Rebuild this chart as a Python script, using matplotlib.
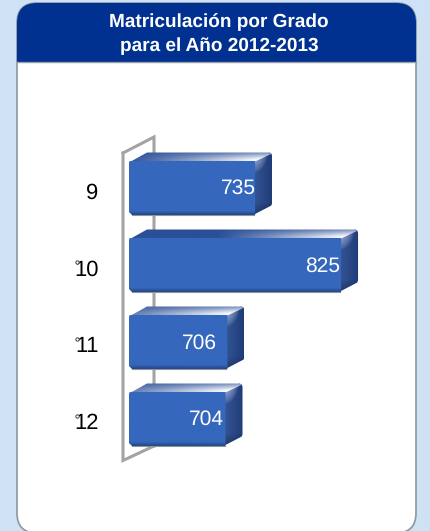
import numpy as np
import matplotlib
matplotlib.use("Agg")
import matplotlib.pyplot as plt
from matplotlib.patches import FancyBboxPatch, Polygon, Rectangle
from matplotlib.colors import to_rgb
from matplotlib.transforms import ScaledTranslation

grades = ["9", "10", "11", "12"]
enrolment = [735, 825, 706, 704]
title_text = "Matriculación por Grado\npara el Año 2012-2013"

W, H = 430, 531
plt.rcParams['font.family'] = ['Liberation Sans', 'DejaVu Sans']
plt.rcParams['text.hinting'] = 'no_hinting'
plt.rcParams['text.hinting_factor'] = 1
fig = plt.figure(figsize=(W/100, H/100), dpi=100, facecolor='#cfe2f5')

# panel layer in pixel coordinates
bg = fig.add_axes([0, 0, 1, 1])
bg.set_xlim(0, W); bg.set_ylim(H, 0); bg.axis('off')
R = 20
panel = FancyBboxPatch((17+R, 3+R), 399-2*R, 530-2*R, boxstyle=f"round,pad={R},rounding_size={R}",
                       fc='white', ec='#8e969e', lw=1.2)
bg.add_patch(panel)
header = Rectangle((16, 0), 401, 62, fc='#003090', ec='none')
bg.add_patch(header)
header.set_clip_path(panel)
bg.plot([17, 416], [62, 62], color='#9aa0a8', lw=1)
bg.text(219, 34, title_text, color='white', fontsize=14, fontweight='bold',
        ha='center', va='center', linespacing=1.46)

# data axes: value axis starts at 604, 0.955 px per unit; slots 77 px high
PX = 0.955
x0_px, top_px, bot_px = 129, 149.5, 457.5
base = 604
ax = fig.add_axes([x0_px/W, 1-bot_px/H, 290/W, (bot_px-top_px)/H])
ax.patch.set_alpha(0)
xlim = (base, base+290/PX)
ylim = (len(grades)-0.5, -0.5)
for s in ax.spines.values():
    s.set_visible(False)
ux, uy = 1/PX, 1/77.0     # data units per pixel
dx, dy = 18*ux, 8.5*uy
bar_h = 54*uy
label_shift_px = [2, 0, -9, -0.5]
label_drop_px = [0, 1, 1, 0]

def grad_face(poly, rgb_array, z):
    xs = [p[0] for p in poly]; ys = [p[1] for p in poly]
    im = ax.imshow(rgb_array, extent=(min(xs), max(xs), max(ys), min(ys)),
                   aspect='auto', zorder=z, interpolation='bilinear')
    clip = Polygon(poly, closed=True, transform=ax.transData, fc='none', ec='none')
    ax.add_patch(clip)
    im.set_clip_path(clip)

def mix(a, b, t):
    a, b = np.array(to_rgb(a)), np.array(to_rgb(b))
    return a[None, None, :]*(1-t[..., None]) + b[None, None, :]*t[..., None]

# wall
wall_c = '#a3a3a3'
wall_back_x = base+(154-129)*ux
wall_front_x = base+(123-129)*ux
ytop_b = (137-188)*uy; ybot_b = (446-188)*uy
ytop_f = (153-188)*uy; ybot_f = (460.5-188)*uy
wall_kw = dict(color=wall_c, lw=2.2, clip_on=False, solid_joinstyle='miter')
ax.plot([wall_front_x, wall_back_x, wall_back_x], [ytop_f, ytop_b, ybot_b], zorder=1, **wall_kw)
ax.plot([wall_front_x, wall_front_x, wall_back_x], [ytop_f, ybot_f, ybot_b], zorder=1, **wall_kw)

for i, v in enumerate(enrolment):
    yt, yb = i-bar_h/2, i+bar_h/2
    c = 3*ux; cy = 3*uy
    front = [(base, yt+cy*0.5), (base+c*0.5, yt), (v+1*ux, yt), (v+1*ux, yb), (base+c, yb), (base, yb-cy)]
    top = [(base, yt+cy*0.5), (base+dx, yt-dy), (v+dx-c, yt-dy), (v+dx-c*0.2, yt-dy+cy*0.4),
           (v+1*ux, yt+0.5*uy), (base, yt+0.5*uy)]
    side = [(v-1*ux, yt+1*uy), (v+dx-c, yt-dy), (v+dx-c*0.3, yt-dy+cy*0.3), (v+dx, yt-dy+cy),
            (v+dx, yb-dy-cy), (v+dx-c*0.3, yb-dy-cy*0.3), (v-1*ux, yb)]

    n = 80
    gx, gy = np.meshgrid(np.linspace(0, 1, 200), np.linspace(0, 1, n))
    # side face first, so the front face overlaps the seam
    t = 0.5+0.5*gx
    img = mix('#4a6fb5', '#1f3c78', np.clip(t, 0, 1))
    glow = np.clip(1-np.hypot(gx*1.3, gy*3.0), 0, 1)**0.7
    img = img*(1-glow[..., None]) + np.array(to_rgb('#a8bada'))*glow[..., None]
    foot = np.clip((gy-0.8)/0.2, 0, 1)*0.3
    img = img*(1-foot[..., None])
    grad_face(side, np.clip(img, 0, 1), 3)
    # top face: dark with a white sheen that grows towards the right front edge
    length_px = (v-base)*PX
    start = 1-130/length_px
    sheen = np.clip((gx-start)/(1-start), 0, 1)**1.1*np.clip(0.25+gy, 0, 1)**0.9
    img = mix('#2b4f97', '#ffffff', np.clip(sheen*1.1, 0, 1))
    grad_face(top, img, 3.1)
    # front face
    shade = np.clip((gy-0.93)/0.07, 0, 1)
    img = mix('#3567bd', '#23457f', shade)
    grad_face(front, np.clip(img, 0, 1), 3.2)
    # soft grey rim under the bar
    ax.plot([base+c, v], [yb, yb], color='#8b93a0', lw=0.8, zorder=4, clip_on=False)
    ax.text(v+label_shift_px[i]*ux, i+label_drop_px[i]*uy, str(v), color='white', fontsize=15, ha='right', va='center', zorder=5)

ax.set_xlim(*xlim); ax.set_ylim(*ylim)
ax.set_xticks([])
ax.set_yticks(range(len(grades)))
ax.set_yticklabels(grades, fontsize=15.5, color='black')
ax.tick_params(axis='y', length=0, pad=22)
shift = ScaledTranslation(0, -2.5/100, fig.dpi_scale_trans)
for lab in ax.get_yticklabels():
    lab.set_transform(lab.get_transform() + shift)

# small circular speck at the top of each leading "1"
for i, g in enumerate(grades):
    if g.startswith('1'):
        ax.plot([base-52*ux], [i-3.5*uy], marker='o', ms=2.4, mfc='white', mec='#444444', mew=0.7,
                clip_on=False, zorder=6)

fig.savefig('out.png', dpi=100, facecolor=fig.get_facecolor())
